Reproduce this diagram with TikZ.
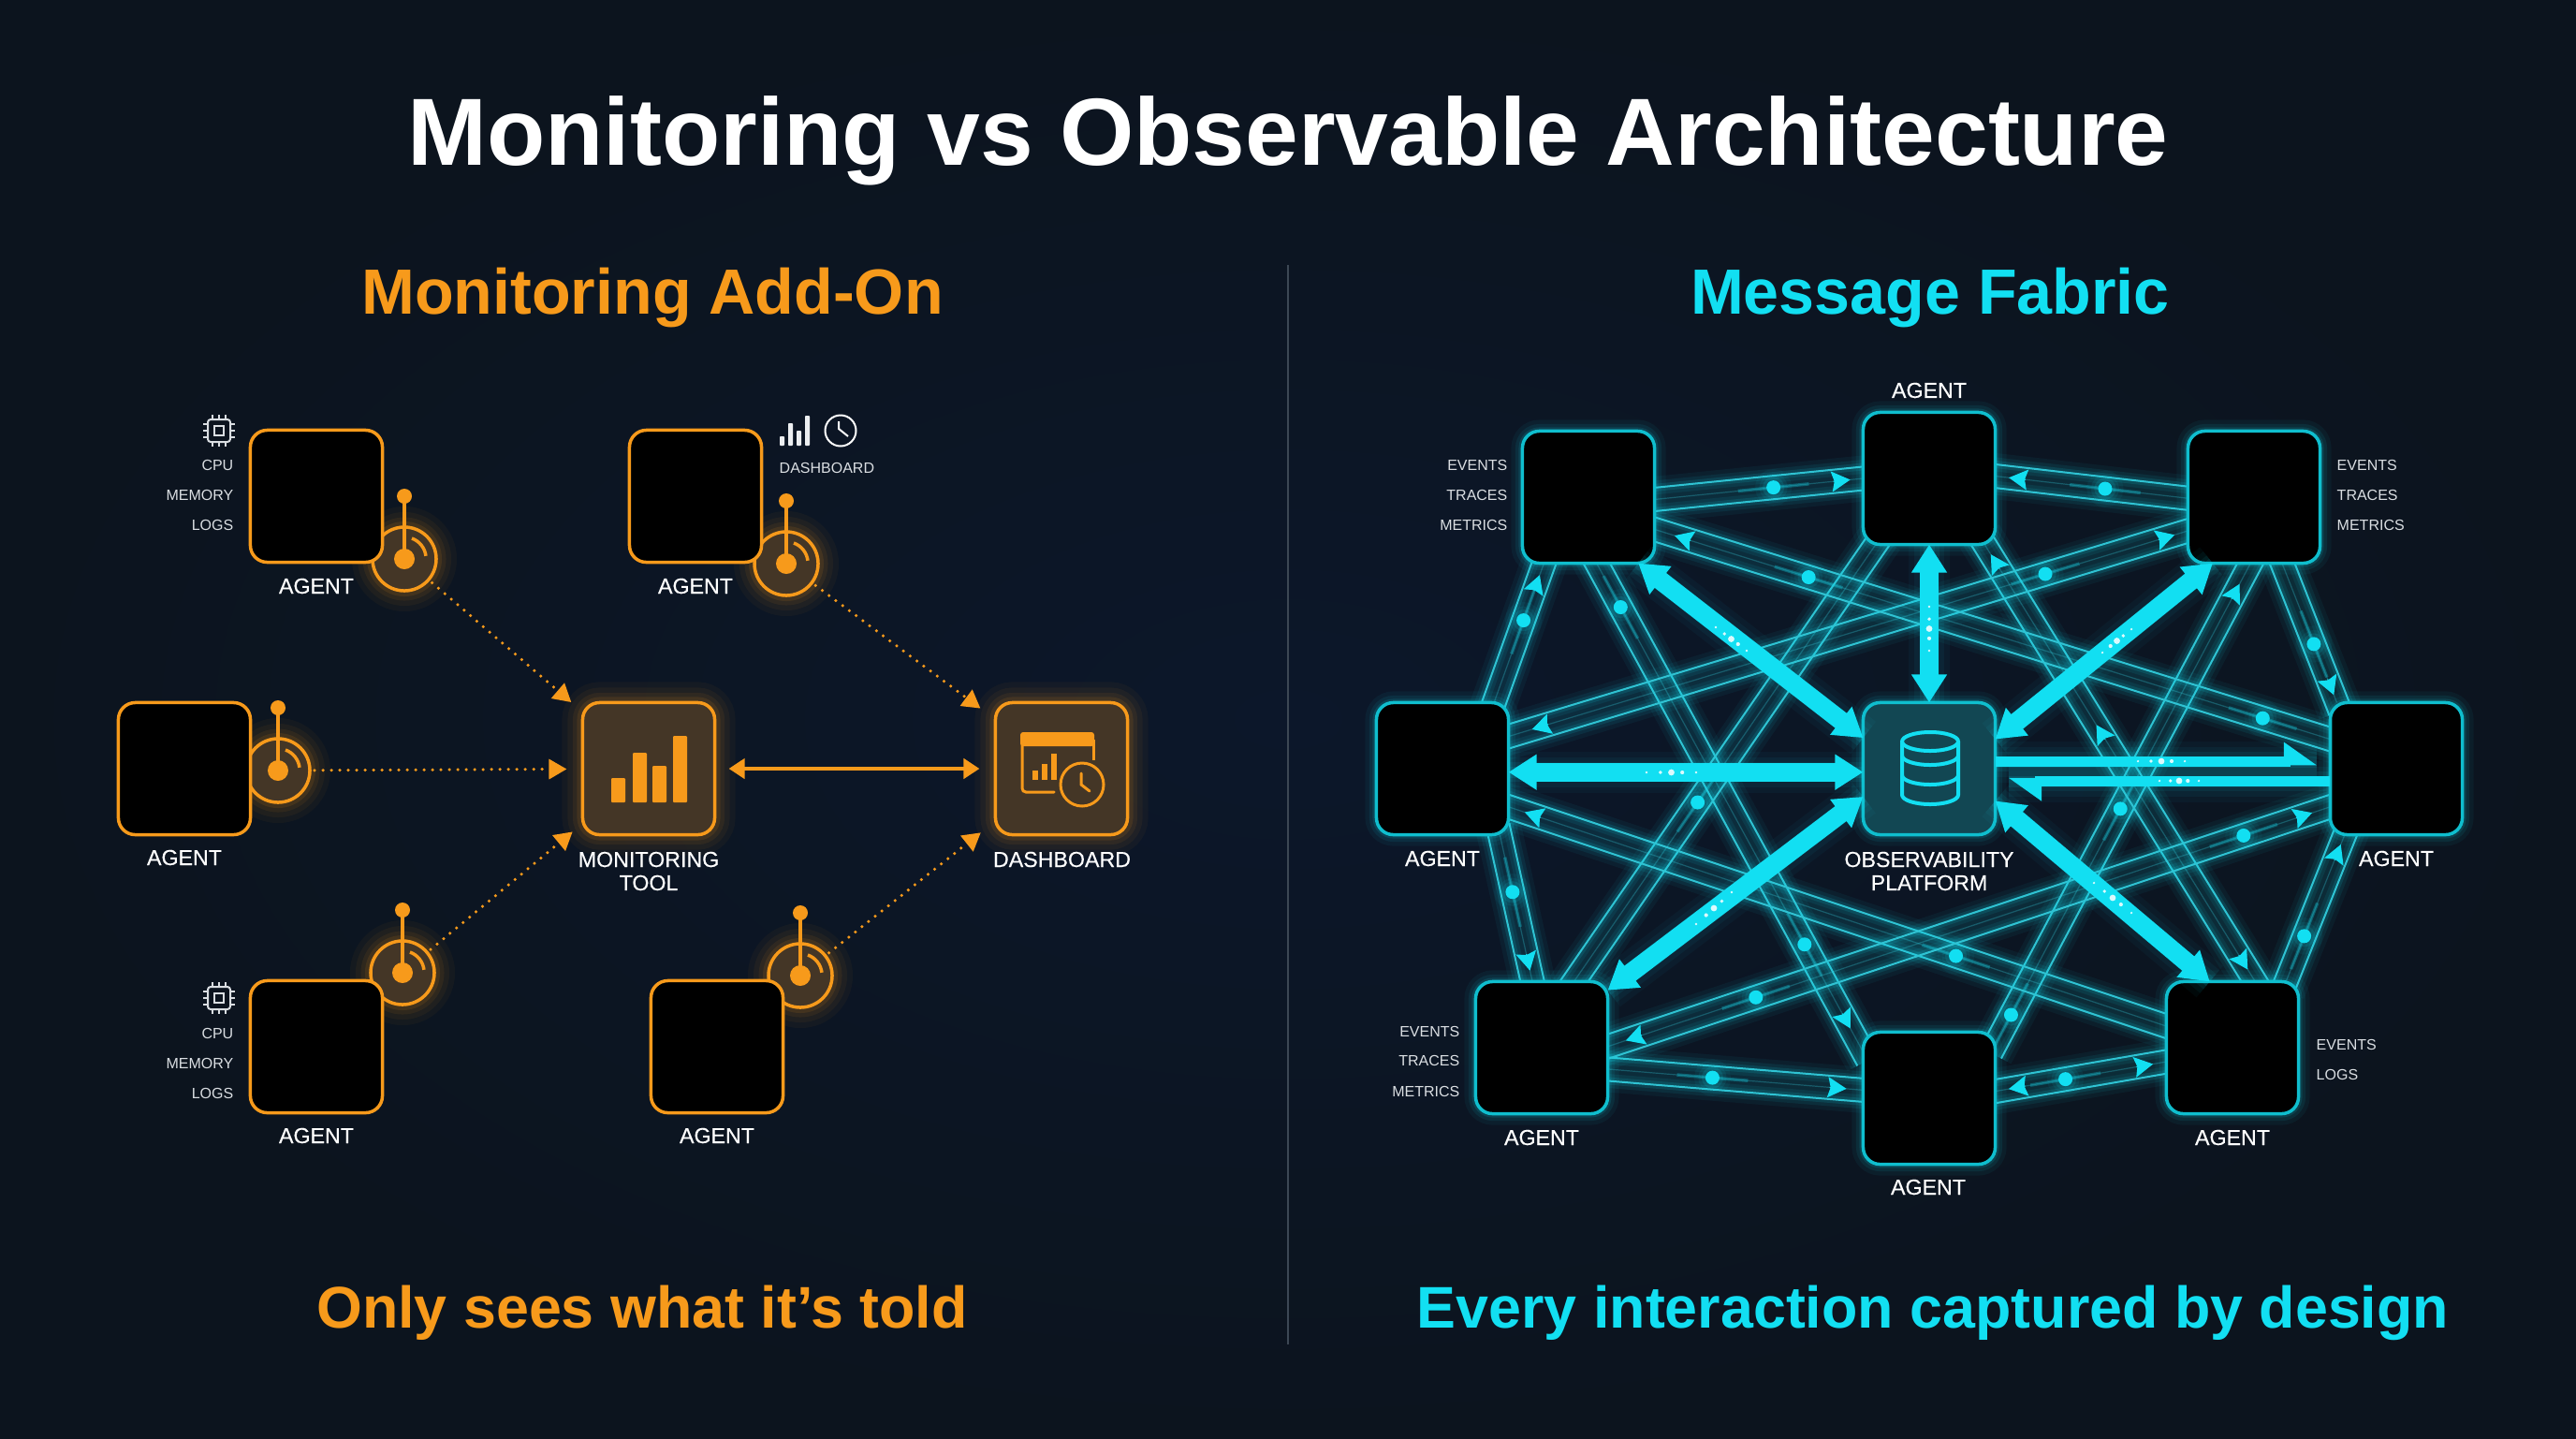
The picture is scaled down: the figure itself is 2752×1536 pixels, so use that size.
\documentclass[tikz,border=0pt]{standalone}
\usepackage{fontspec}
\setmainfont{Liberation Sans}
\newfontfamily\labelfont[FakeBold=.3]{Liberation Sans}
\usetikzlibrary{arrows.meta,calc,backgrounds}

\definecolor{amber}{HTML}{F79A1B}
\definecolor{aqualine}{HTML}{12DFF2}
\definecolor{tubeedge}{HTML}{2FC3D3}
\definecolor{bgmid}{HTML}{0C172A}
\definecolor{bgedge}{HTML}{0C141E}
\definecolor{platefill}{HTML}{124753}
\definecolor{smalltext}{HTML}{DADEE2}
\definecolor{dividerline}{HTML}{3C4754}
\colorlet{amberfill}{amber!24!bgmid}

\tikzset{
	glow/.style={
		preaction={draw=#1,-,draw opacity=.04,line width=.44cm},
		preaction={draw=#1,-,draw opacity=.05,line width=.32cm},
		preaction={draw=#1,-,draw opacity=.07,line width=.21cm},
		preaction={draw=#1,-,draw opacity=.10,line width=.12cm}},
	softglow/.style={
		preaction={draw=#1,-,draw opacity=.05,line width=.24cm},
		preaction={draw=#1,-,draw opacity=.08,line width=.15cm},
		preaction={draw=#1,-,draw opacity=.12,line width=.08cm}},
	plainbox/.style={rectangle,rounded corners=.18cm,minimum size=1.41cm,inner sep=0pt,outer sep=0pt,line width=.035cm},
	agentamber/.style={plainbox,fill=black,draw=amber},
	hubamber/.style={plainbox,fill=amberfill,draw=amber,glow=amber},
	agentaqua/.style={plainbox,fill=black,draw=aqualine!85!black,softglow=aqualine},
	hubaqua/.style={plainbox,fill=platefill,draw=aqualine!85!black,softglow=aqualine},
	probedisc/.style={circle,minimum size=.68cm,inner sep=0pt,outer sep=0pt,fill=amberfill,draw=amber,line width=.035cm,glow=amber},
	probeline/.style={draw=amber,line width=.035cm},
	dotflow/.style={draw=amber,line width=.035cm,line cap=round,dash pattern=on 0pt off .09cm,shorten <=.05cm,-{Triangle[length=.19cm,width=.21cm]}},
	headline/.style={text=white,font=\fontsize{29}{34}\selectfont\bfseries,anchor=base},
	sidehead/.style={font=\fontsize{19.4}{24}\selectfont\bfseries,anchor=base},
	foothead/.style={font=\fontsize{17.85}{24}\selectfont\bfseries,anchor=base},
	agentname/.style={text=white,font=\fontsize{6.6}{7.1}\selectfont\labelfont,align=center,inner sep=0pt},
	smallname/.style={text=smalltext,font=\fontsize{4.55}{6}\selectfont,inner sep=0pt},
	iconline/.style={draw=#1,line width=.02cm},
	tubefill/.style={fill=aqualine,fill opacity=.07},
	tubeline/.style={draw=tubeedge,line width=.02cm,softglow=aqualine},
	tubecore/.style={draw=tubeedge,draw opacity=.35,line width=.012cm},
	tubedot/.style={fill=aqualine,softglow=aqualine},
	tubetrail/.style={draw=aqualine,draw opacity=.3,line width=.035cm},
	tubetip/.style={draw=aqualine,line width=.012cm,-{Stealth[inset=.03cm,length=.2cm,width=.22cm]}},
	spoke/.style={draw=aqualine,line width=.2cm,{Triangle[length=.3cm,width=.36cm]}-{Triangle[length=.3cm,width=.36cm]},glow=aqualine},
	halfspoke/.style={draw=aqualine,line width=.11cm,-{Triangle[harpoon,length=.3cm,width=.4cm]},shorten >=.14cm,glow=aqualine}
}

% one sensor on an agent of the left side
\newcommand{\probe}[3]{%
	\node [probedisc] (#1) at (#2,#3) {};
	\draw [probeline] (#2,#3) -- (#2,#3-67);
	\fill [amber] (#2,#3) circle (11);
	\fill [amber] (#2,#3-67) circle (8);
	\draw [probeline] (#2,#3) ++(8,-22) arc (-70:-7:23);
}
\newcommand{\chip}[2]{%
	\begin{scope}[shift={(#1,#2)}]
		\draw [iconline=smalltext,rounded corners=.03cm] (-12,-12) rectangle (12,12);
		\draw [iconline=smalltext] (-5,-5) rectangle (5,5);
		\foreach \p in {-7,0,7} {
			\draw [iconline=smalltext] (\p,-12) -- (\p,-17);
			\draw [iconline=smalltext] (\p,12) -- (\p,17);
			\draw [iconline=smalltext] (-12,\p) -- (-17,\p);
			\draw [iconline=smalltext] (12,\p) -- (17,\p);
		}
	\end{scope}
}
% the see-through links of the fabric
\newcommand{\tube}[3]{%
	\coordinate (ta) at (#1);
	\coordinate (tb) at (#2);
	\coordinate (ua) at ($(ta)!-.1cm!(tb)$);
	\coordinate (ub) at ($(tb)!-.1cm!(ta)$);
	\fill [tubefill] ($(ua)!.125cm!90:(ub)$) -- ($(ub)!.125cm!-90:(ua)$) -- ($(ub)!.125cm!90:(ua)$) -- ($(ua)!.125cm!-90:(ub)$) -- cycle;
	\draw [tubeline] ($(ua)!.125cm!90:(ub)$) -- ($(ub)!.125cm!-90:(ua)$);
	\draw [tubeline] ($(ua)!.125cm!-90:(ub)$) -- ($(ub)!.125cm!90:(ua)$);
	\draw [tubecore] (#1) -- (#2);
	#3
}
\newcommand{\tdot}[1]{%
	\coordinate (tp) at ($(ta)!#1!(tb)$);
	\draw [tubetrail] ($(tp)!.38cm!(ta)$) -- ($(tp)!.38cm!(tb)$);
	\fill [tubedot] (tp) circle (7.5);
}
\newcommand{\ttip}[2]{%
	\coordinate (tp) at ($(ta)!#1!(tb)$);
	\draw [tubetip] ($(tp)!-.14cm!(#2)$) -- ($(tp)!.04cm!(#2)$);
}
\newcommand{\sparks}[2]{%
	\foreach \t/\r in {0/1.3,.28/1.9,.5/3.4,.72/2.1,1/1.3}
		\fill [white,opacity=.85] ($(#1)!\t!(#2)$) circle (\r);
}

\begin{document}
\begin{tikzpicture}[x=.01cm,y=-.01cm]
	\useasboundingbox (0,0) rectangle (2752,1536);
	\begin{scope}[on background layer]
		\shade [inner color=bgmid,outer color=bgedge] (0,0) rectangle (2752,1536);
	\end{scope}
	\draw [dividerline,line width=.02cm] (1376,283) -- (1376,1436);

	\node [headline] (title) at (1376,176) {Monitoring vs Observable Architecture};
	\node [sidehead,text=amber] (headleft) at (697,335) {Monitoring Add-On};
	\node [sidehead,text=aqualine] (headright) at (2062,335) {Message Fabric};
	\node [foothead,text=amber] (footleft) at (686,1418) {Only sees what it’s told};
	\node [foothead,text=aqualine] (footright) at (2065,1418) {Every interaction captured by design};

	% left side
	\probe{probeA}{432}{597}
	\probe{probeB}{840}{602}
	\probe{probeC}{297}{823}
	\probe{probeD}{430}{1039}
	\probe{probeE}{855}{1042}

	\node [agentamber] (agentA) at (338,530) {};
	\node [agentamber] (agentB) at (743,530) {};
	\node [agentamber] (agentC) at (197,821) {};
	\node [agentamber] (agentD) at (338,1118) {};
	\node [agentamber] (agentE) at (766,1118) {};
	\node [hubamber] (tool) at (693,821) {};
	\node [hubamber] (dash) at (1134,821) {};

	\draw [dotflow,shorten >=.16cm] (probeA) -- (tool);
	\draw [dotflow,shorten >=.2cm] (probeB) -- (dash);
	\draw [dotflow,shorten >=.17cm] (probeC) -- (tool);
	\draw [dotflow,shorten >=.14cm] (probeD) -- (tool);
	\draw [dotflow,shorten >=.2cm] (probeE) -- (dash);
	\draw [draw=amber,line width=.045cm,{Triangle[length=.17cm,width=.21cm]}-{Triangle[length=.17cm,width=.21cm]},shorten <=.15cm,shorten >=.17cm] (tool) -- (dash);

	% bars of the tool
	\foreach \x/\h in {653/831,676/804,697/818,719/786}
		\fill [amber,rounded corners=.01cm] (\x,857) rectangle (\x+15,\h);
	% dashboard window and clock
	\fill [amber,rounded corners=.03cm] (1090,797) -- (1090,782) -- (1169,782) -- (1169,797) -- cycle;
	\draw [draw=amber,line width=.03cm,line cap=round] (1092,790) -- (1092,842) [rounded corners=.04cm] -- (1092,846) -- (1126,846);
	\draw [draw=amber,line width=.03cm] (1168,790) -- (1168,812);
	\foreach \x/\h in {1103/823,1113/816,1123/805}
		\fill [amber] (\x,833) rectangle (\x+5.5,\h);
	\draw [draw=amber,line width=.03cm,fill=amberfill] (1156,838) circle (23);
	\draw [draw=amber,line width=.03cm,line cap=round] (1155,826) -- (1155,838) -- (1164,845);

	\chip{234}{460}
	\node [smallname,anchor=east] (cpuA) at (250,497) {CPU};
	\node [smallname,anchor=east] (memA) at (250,529) {MEMORY};
	\node [smallname,anchor=east] (logA) at (250,561) {LOGS};
	\chip{234}{1066}
	\node [smallname,anchor=east] (cpuD) at (250,1104) {CPU};
	\node [smallname,anchor=east] (memD) at (250,1136) {MEMORY};
	\node [smallname,anchor=east] (logD) at (250,1168) {LOGS};

	\foreach \x/\h in {833/466,842/452,851/460,860/444}
		\fill [smalltext!50!white,rounded corners=.008cm] (\x,476) rectangle (\x+5,\h);
	\draw [draw=white,line width=.02cm] (898,460) circle (16.5);
	\draw [draw=white,line width=.02cm] (896,450) -- (896,458) -- (906,466);
	\node [smallname,anchor=west] (dashB) at (832,500) {DASHBOARD};

	\node [agentname] (nameA) at (338,626) {AGENT};
	\node [agentname] (nameB) at (743,626) {AGENT};
	\node [agentname] (nameC) at (197,916) {AGENT};
	\node [agentname] (nameD) at (338,1213) {AGENT};
	\node [agentname] (nameE) at (766,1213) {AGENT};
	\node [agentname] (nameTool) at (693,930.5) {MONITORING\\TOOL};
	\node [agentname] (nameDash) at (1134.5,918) {DASHBOARD};

	% right side
	\node [agentaqua] (ul) at (1697,531) {};
	\node [agentaqua] (top) at (2061,511) {};
	\node [agentaqua] (ur) at (2408,531) {};
	\node [agentaqua] (lft) at (1541,821) {};
	\node [agentaqua] (rgt) at (2560,821) {};
	\node [agentaqua] (ll) at (1647,1119) {};
	\node [agentaqua] (lr) at (2385,1119) {};
	\node [agentaqua] (bot) at (2061,1173) {};
	\node [hubaqua] (hub) at (2061,821) {};

	\begin{scope}[on background layer]
		% ring
		\tube{ul.-2.5}{top.180}{\tdot{.57}\ttip{.92}{tb}}
		\tube{ur.181}{top.2}{\tdot{.43}\ttip{.91}{tb}}
		\tube{ur.-67.5}{rgt.132.8}{\tdot{.58}\ttip{.92}{tb}}
		\tube{lr.51.7}{rgt.-128.7}{\tdot{.31}\ttip{.91}{tb}}
		\tube{lr.192}{bot.6.5}{\tdot{.59}\ttip{.9}{tb}\ttip{.1}{ta}}
		\tube{ll.-18.7}{bot.173.5}{\tdot{.41}\ttip{.92}{tb}}
		\tube{lft.-49}{ll.98}{\tdot{.39}\ttip{.9}{tb}}
		\tube{lft.52.4}{ul.-124.4}{\tdot{.59}\ttip{.89}{tb}}
		% star
		\tube{ul.-83.5}{bot.145.6}{\tdot{.09}\tdot{.78}\ttip{.945}{tb}}
		\tube{ur.-93}{bot.39.2}{\tdot{.51}\tdot{.938}\ttip{.05}{ta}}
		\tube{top.-129.6}{ll.64.8}{\tdot{.59}}
		\tube{top.-50.8}{lr.71.8}{\ttip{.03}{ta}\ttip{.42}{ta}\ttip{.965}{tb}}
		\tube{lft.26.9}{ur.207.5}{\tdot{.79}\ttip{.04}{ta}\ttip{.975}{tb}}
		\tube{ul.-26.6}{rgt.156.1}{\tdot{.228}\tdot{.9}\ttip{.035}{ta}}
		\tube{lft.-30.6}{lr.162.8}{\tdot{.68}\ttip{.03}{ta}}
		\tube{rgt.210.4}{ll.1.6}{\tdot{.12}\tdot{.795}\ttip{.03}{ta}\ttip{.97}{tb}}
	\end{scope}

	\draw [spoke] (hub.155) -- (ul.-53);
	\draw [spoke] (hub.90) -- (top.-90);
	\draw [spoke] (hub.24) -- (ur.-122);
	\draw [spoke] (hub.183) -- (lft.-3);
	\draw [spoke] (hub.203) -- (ll.41.6);
	\draw [spoke] (hub.-26) -- (lr.109.6);
	\draw [halfspoke] (hub.6) -- (rgt.174);
	\draw [halfspoke] (rgt.191) -- (hub.-11);
	\sparks{1759,825}{1812,825}
	\sparks{2061,648}{2061,695}
	\sparks{1833,670}{1866,695}
	\sparks{2277,672}{2246,697}
	\sparks{1850,953}{1812,987}
	\sparks{2237,943}{2277,975}
	\sparks{2284,813}{2334,813}
	\sparks{2307,834}{2349,834}

	% database
	\draw [draw=aqualine,line width=.04cm] (2032,792) -- (2032,849) arc (180:0:30 and 10) -- (2092,792);
	\draw [draw=aqualine,line width=.04cm] (2062,792) ellipse (30 and 10);
	\draw [draw=aqualine,line width=.04cm] (2032,807) arc (180:0:30 and 10);
	\draw [draw=aqualine,line width=.04cm] (2032,828) arc (180:0:30 and 10);

	\node [agentname] (nameTop) at (2061,417) {AGENT};
	\node [agentname] (nameLft) at (1541,917) {AGENT};
	\node [agentname] (nameRgt) at (2560,917) {AGENT};
	\node [agentname] (nameLl) at (1647,1215) {AGENT};
	\node [agentname] (nameLr) at (2385,1215) {AGENT};
	\node [agentname] (nameBot) at (2060,1268) {AGENT};
	\node [agentname] (nameHub) at (2061,930.5) {OBSERVABILITY\\PLATFORM};

	\node [smallname,anchor=east] (evUl) at (1611,497) {EVENTS};
	\node [smallname,anchor=east] (trUl) at (1611,529) {TRACES};
	\node [smallname,anchor=east] (meUl) at (1611,561) {METRICS};
	\node [smallname,anchor=west] (evUr) at (2496,497) {EVENTS};
	\node [smallname,anchor=west] (trUr) at (2496,529) {TRACES};
	\node [smallname,anchor=west] (meUr) at (2496,561) {METRICS};
	\node [smallname,anchor=east] (evLl) at (1560,1102) {EVENTS};
	\node [smallname,anchor=east] (trLl) at (1560,1133) {TRACES};
	\node [smallname,anchor=east] (meLl) at (1560,1166) {METRICS};
	\node [smallname,anchor=west] (evLr) at (2474,1116) {EVENTS};
	\node [smallname,anchor=west] (loLr) at (2474,1148) {LOGS};
\end{tikzpicture}
\end{document}
